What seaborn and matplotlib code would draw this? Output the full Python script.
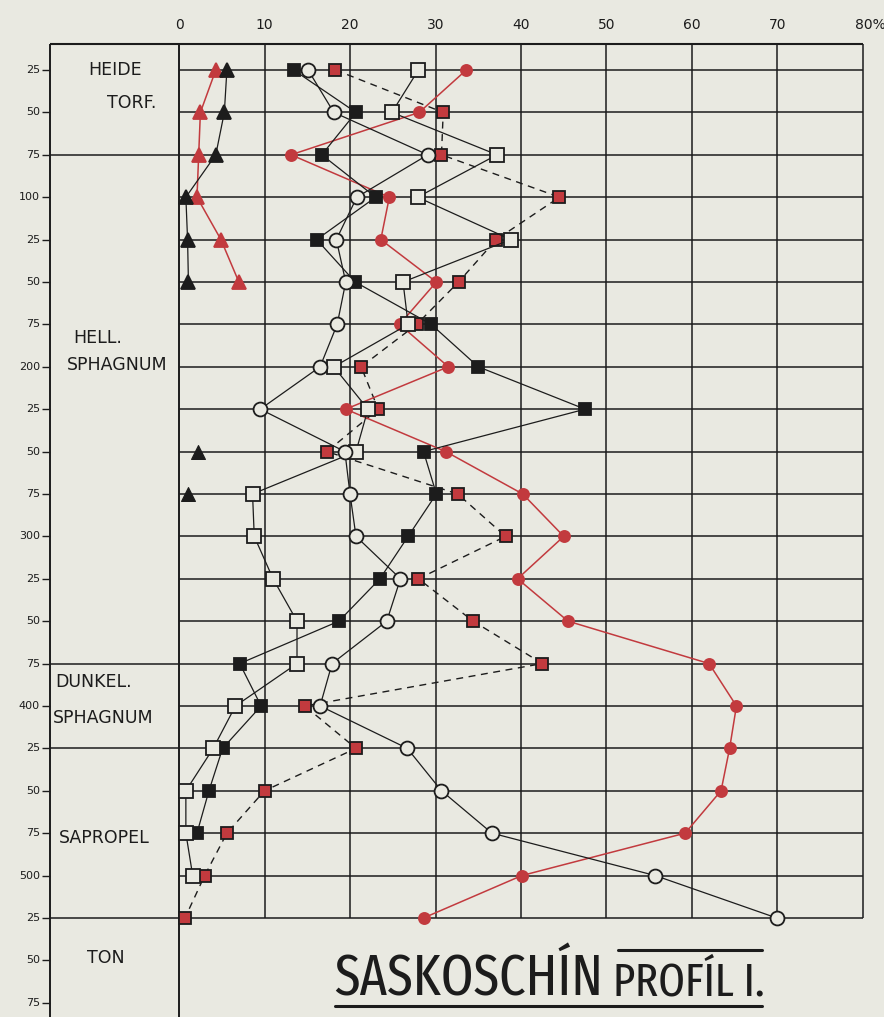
import matplotlib
matplotlib.use("Agg")
import matplotlib.pyplot as plt
import matplotlib.font_manager as fm
import seaborn as sns
import pandas as pd

sns.set_style("white")
plt.rcParams["font.family"] = ["DejaVu Sans"]

PAPER = "#e9e9e1"
INK = "#1c1c1c"
RED = "#c23a3e"

# depth scale (cm) and percent scale
depth_ticks = [25, 50, 75, 100, 125, 150, 175, 200, 225, 250, 275, 300,
               325, 350, 375, 400, 425, 450, 475, 500, 525, 550, 575]
depth_labels = ["25", "50", "75", "100", "25", "50", "75", "200", "25", "50", "75", "300",
                "25", "50", "75", "400", "25", "50", "75", "500", "25", "50", "75"]
grid_depths = depth_ticks[:21]
long_rows = [75, 375, 425, 525]
pct_ticks = [0, 10, 20, 30, 40, 50, 60, 70, 80]
pct_labels = ["0", "10", "20", "30", "40", "50", "60", "70", "80%"]

# series
tri_depth = [25, 50, 75, 100, 125, 150]
tri_black = [5.6, 5.3, 4.3, 0.8, 1.0, 1.1]
tri_red = [4.3, 2.5, 2.3, 2.1, 4.9, 7.0]
tri_black_loose_depth = [250, 275]
tri_black_loose = [2.2, 1.0]

sq_black_depth = depth_ticks[:19]
sq_black = [13.4, 20.7, 16.7, 23.0, 16.1, 20.6, 29.5, 35.0, 47.5, 28.6, 30.1, 26.8,
            23.5, 18.7, 7.1, 9.6, 5.1, 3.5, 2.1]

sq_open_depth = depth_ticks[:20]
sq_open = [28.0, 24.9, 37.2, 27.9, 38.8, 26.2, 26.8, 18.1, 22.1, 20.7, 8.6, 8.8,
           11.0, 13.8, 13.8, 6.6, 4.0, 0.8, 0.8, 1.6]

full_depth = depth_ticks[:21]
circ_open = [15.1, 18.1, 29.1, 20.8, 18.4, 19.5, 18.5, 16.5, 9.5, 19.4, 20.0, 20.7,
             25.9, 24.3, 17.9, 16.5, 26.7, 30.7, 36.6, 55.7, 69.9]
sq_red = [18.3, 30.9, 30.7, 44.5, 37.1, 32.7, 27.8, 21.3, 23.3, 17.3, 32.6, 38.2,
          28.0, 34.4, 42.5, 14.7, 20.7, 10.0, 5.6, 3.0, 0.7]
circ_red = [33.6, 28.1, 13.1, 24.6, 23.6, 30.1, 25.8, 31.5, 19.5, 31.2, 40.2, 45.0,
            39.6, 45.5, 62.0, 65.2, 64.4, 63.4, 59.2, 40.1, 28.6]

# zone labels of the profile
zones = [("HEIDE", -10.6, 25), ("TORF.", -8.4, 44.5), ("HELL.", -12.4, 183),
         ("SPHAGNUM", -13.1, 199), ("DUNKEL.", -14.5, 386), ("SPHAGNUM", -14.7, 407),
         ("SAPROPEL", -14.0, 478), ("TON", -10.8, 548.5)]

fig = plt.figure(figsize=(8.84, 10.17), dpi=100, facecolor=PAPER)
ax = fig.add_axes([0, 0, 1, 1])
ax.set_facecolor(PAPER)
ax.set_xlim(-20.94, 82.46)
ax.set_ylim(583.4, -16.27)
ax.axis("off")

top = 9.67
left = -15.09

# grid
ax.hlines(grid_depths, 0, 80, color=INK, lw=1.1, zorder=1)
ax.hlines(long_rows, left, 0, color=INK, lw=1.1, zorder=1)
ax.hlines(top, left, 80, color=INK, lw=1.5, zorder=1)
ax.vlines(pct_ticks[1:], top, 525, color=INK, lw=1.1, zorder=1)
ax.vlines([left, 0], top, 583.4, color=INK, lw=1.4, zorder=1)
ax.hlines(depth_ticks, left - 0.9, left, color=INK, lw=1.0, zorder=1)

for v, lab in zip(pct_ticks, pct_labels):
    ax.text(v + (0.9 if lab.endswith("%") else 0), -1.5, lab, ha="center", va="center",
            fontsize=10, color=INK)
for d, lab in zip(depth_ticks, depth_labels):
    ax.text(left - 1.2, d, lab, ha="right", va="center", fontsize=8, color=INK)
for txt, x, d in zones:
    ax.text(x, d, txt, ha="left", va="center", fontsize=12.5, color=INK)


def series(x, y, color, marker, ms, mfc, mec, lw=0.9, ls="-"):
    df = pd.DataFrame({"pct": x, "depth": y})
    sns.lineplot(data=df, x="pct", y="depth", orient="y", estimator=None, ax=ax,
                 color=color, lw=lw, linestyle=ls, marker=marker, markersize=ms,
                 markerfacecolor=mfc, markeredgecolor=mec, markeredgewidth=1.3,
                 zorder=3, legend=False)


series(tri_red, tri_depth, RED, "^", 10, RED, RED, lw=1.1)
series(tri_black, tri_depth, INK, "^", 10, INK, INK)
sns.scatterplot(x=tri_black_loose, y=tri_black_loose_depth, ax=ax, marker="^", s=100,
                color=INK, edgecolor=INK, zorder=3, legend=False)
series(sq_red, full_depth, INK, "s", 8.5, RED, INK, lw=1.0, ls=(0, (5, 4)))
series(circ_red, full_depth, RED, "o", 8, RED, RED, lw=1.1)
series(sq_black, sq_black_depth, INK, "s", 9, INK, INK)
series(sq_open, sq_open_depth, INK, "s", 9.5, PAPER, INK)
series(circ_open, full_depth, INK, "o", 10, PAPER, INK)

# title in the narrowest sans available, fitted to the hand-lettered width
narrow = [f for f in fm.findSystemFonts()
          if "ExtraCondensed-Regular" in f or "ExtraCondensed.ttf" in f]
if narrow:
    tfont = dict(fontproperties=fm.FontProperties(fname=sorted(narrow)[0]))
else:
    tfont = dict(family=["Noto Sans", "DejaVu Sans"], fontstretch="condensed")

t1 = ax.text(18.2, 571, "SASKOSCHÍN", ha="left", va="baseline", color=INK, **tfont)
t2 = ax.text(50.8, 571, "PROFÍL I.", ha="left", va="baseline", color=INK, **tfont)
fig.canvas.draw()
rend = fig.canvas.get_renderer()
for t, width_px in [(t1, 268), (t2, 150)]:
    w = t.get_window_extent(rend).width
    t.set_fontsize(t.get_fontsize() * width_px / w)
ax.plot([18.2, 68.2], [577, 577], color=INK, lw=2.2)
ax.plot([51.3, 68.2], [544, 544], color=INK, lw=2.2)

fig.savefig("out.png", dpi=100, facecolor=PAPER)
